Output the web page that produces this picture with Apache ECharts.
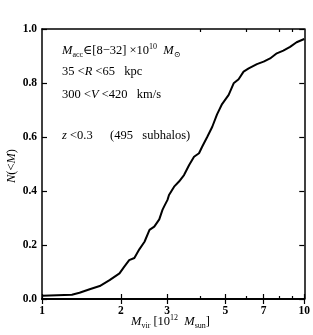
<!DOCTYPE html>
<html><head><meta charset="utf-8">
<script src="https://cdn.jsdelivr.net/npm/echarts@6/dist/echarts.min.js"></script>
<style>html,body{margin:0;padding:0;background:#fff}#c{width:313px;height:335px}</style>
</head><body><div id="c"></div>
<script>
// Cumulative distribution N(<M) of subhalo virial mass
const massValues = [1.0, 1.30, 1.39, 1.52, 1.66, 1.81, 1.975, 2.06, 2.15, 2.25, 2.35, 2.46, 2.57, 2.68, 2.80, 2.88, 2.92, 3.01, 3.05, 3.19, 3.33, 3.48, 3.64, 3.80, 3.97, 4.08, 4.27, 4.46, 4.65, 4.86, 5.15, 5.38, 5.62, 5.87, 6.14, 6.6, 7.0, 7.41, 7.86, 8.32, 8.83, 9.35, 10.0];
const cumValues  = [0.012, 0.016, 0.023, 0.036, 0.048, 0.070, 0.095, 0.12, 0.144, 0.152, 0.184, 0.212, 0.256, 0.268, 0.295, 0.33, 0.342, 0.367, 0.385, 0.416, 0.435, 0.459, 0.496, 0.527, 0.54, 0.564, 0.601, 0.638, 0.684, 0.722, 0.756, 0.799, 0.814, 0.842, 0.854, 0.870, 0.879, 0.891, 0.910, 0.920, 0.934, 0.951, 0.963];
const xMajorTicks = [1, 2, 3, 5, 7, 10];
const xMinorTicks = [4, 6, 8, 9];
const yTicks = [0, 0.2, 0.4, 0.6, 0.8, 1.0];

const SERIF = '"Liberation Serif","DejaVu Serif",serif';
const chart = echarts.init(document.getElementById('c'), null, {renderer: 'canvas'});
const lineStyleAxis = {color: '#000', width: 1.5};
const labelStyle = {fontFamily: SERIF, fontWeight: 'bold', fontSize: 11.5, color: '#000'};

function xAxisCfg(pos, showLabels, ticks, tickLen) {
  return {
    type: 'log', logBase: 10, min: 1, max: 10, position: pos,
    axisLine: {show: true, lineStyle: lineStyleAxis},
    axisTick: {show: true, inside: true, length: tickLen, customValues: ticks, lineStyle: {color: '#000', width: 1.2}},
    axisLabel: showLabels ? Object.assign({show: true, customValues: xMajorTicks, margin: 6}, labelStyle) : {show: false},
    splitLine: {show: false}, minorTick: {show: false}
  };
}
function yAxisCfg(pos, showLabels) {
  return {
    type: 'value', min: 0, max: 1, interval: 0.2, position: pos,
    axisLine: {show: true, lineStyle: lineStyleAxis},
    axisTick: {show: true, inside: true, length: 5, customValues: yTicks, lineStyle: {color: '#000', width: 1.2}},
    axisLabel: showLabels ? Object.assign({show: true, margin: 5, customValues: yTicks, formatter: v => v.toFixed(1)}, labelStyle) : {show: false},
    splitLine: {show: false}
  };
}

const rich = {
  t: {fontFamily: SERIF, fontSize: 12.5, color: '#000', lineHeight: 16, verticalAlign: 'middle'},
  i: {fontFamily: SERIF, fontSize: 12.5, fontStyle: 'italic', color: '#000', lineHeight: 16, verticalAlign: 'middle'},
  sub: {fontFamily: SERIF, fontSize: 8, color: '#000', lineHeight: 8, verticalAlign: 'bottom'},
  sup: {fontFamily: SERIF, fontSize: 8, color: '#000', lineHeight: 8, verticalAlign: 'top'}
};

chart.setOption({
  animation: false,
  backgroundColor: '#fff',
  grid: {left: 42, right: 7, top: 29, bottom: 36},
  xAxis: [
    xAxisCfg('bottom', true, xMajorTicks, 5),
    xAxisCfg('top', false, xMajorTicks, 5),
    xAxisCfg('bottom', false, xMinorTicks, 3),
    xAxisCfg('top', false, xMinorTicks, 3)
  ],
  yAxis: [yAxisCfg('left', true), yAxisCfg('right', false)],
  series: [{
    type: 'line', xAxisIndex: 0, yAxisIndex: 0, symbol: 'none', smooth: false,
    lineStyle: {color: '#000', width: 2},
    data: massValues.map((m, k) => [m, cumValues[k]])
  }],
  graphic: [
    {type: 'text', left: 62, top: 43, style: {text: '{i|M}{sub|acc}{t|∈[8−32] ×10}{sup|10}{t|  }{i|M}{sub|⊙}', rich: rich}},
    {type: 'text', left: 62, top: 65, style: {text: '{t|35 <}{i|R}{t| <65   kpc}', rich: rich}},
    {type: 'text', left: 62, top: 88, style: {text: '{t|300 <}{i|V}{t| <420   km/s}', rich: rich}},
    {type: 'text', left: 62, top: 129, style: {text: '{i|z}{t| <0.3}', rich: rich}},
    {type: 'text', left: 110, top: 129, style: {text: '{t|(495   subhalos)}', rich: rich}},
    {type: 'text', left: 131, top: 314, style: {text: '{i|M}{sub|vir}{t| [10}{sup|12}{t|  }{i|M}{sub|sun}{t|]}', rich: rich}},
    {type: 'text', left: 5, top: 149, rotation: Math.PI / 2, style: {text: '{i|N}{t|(<}{i|M}{t|)}', rich: rich}}
  ]
});
</script></body></html>
